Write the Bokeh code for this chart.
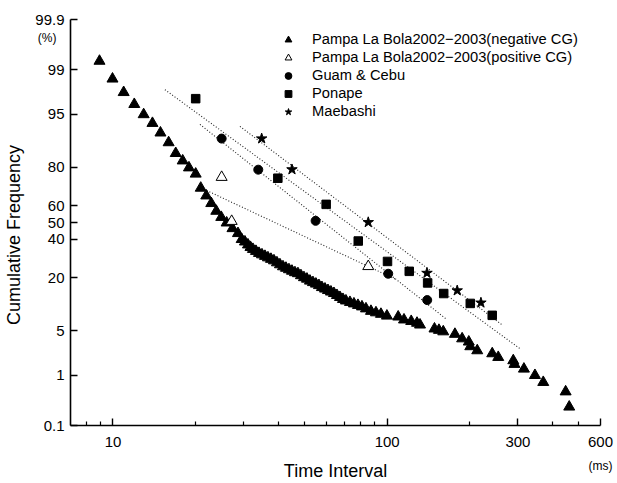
from statistics import NormalDist
from bokeh.plotting import figure
from bokeh.models import (FixedTicker, Legend, LegendItem, Range1d, LogAxis,
                          LinearAxis, NumeralTickFormatter)
from bokeh.embed import file_html
from bokeh.resources import INLINE

# ---------------- data (time interval in ms, cumulative frequency in %) -------------
neg_t = [8.93, 9.96, 10.94, 11.96, 12.94, 13.93, 14.90, 15.96, 16.94, 17.96, 18.93, 20.03,
         20.90, 21.89, 22.83, 23.81, 24.83, 25.98, 27.28, 28.57, 29.47,
         30.29, 31.07, 31.73, 32.40, 33.23, 34.08, 34.95, 35.84, 36.75, 37.69, 38.65, 39.63,
         40.64, 41.69, 42.75, 43.84, 44.96, 46.10, 47.28, 48.48, 49.72, 50.99, 52.29, 53.62,
         54.98, 56.39, 57.82, 59.33, 60.83, 62.37, 63.97, 65.60, 67.28, 69.00, 70.75, 73.17,
         75.67, 78.26, 80.93, 83.70, 87.29, 91.03, 94.93, 99.8,
         109.7, 115.2, 122.4, 128.5, 131.8, 148.8, 154.5, 160.2, 176.7, 187.7, 198.5, 201.0,
         213.1, 241.7, 254.2, 288.4, 291.3, 315.4, 346.0, 371.0, 447.7, 461.4]
neg_p = [99.30, 98.56, 97.62, 96.40, 94.99, 93.46, 91.39, 88.82, 85.38, 82.64, 79.79, 77.01,
         70.02, 65.80, 61.45, 56.89, 53.19, 49.82, 46.39, 43.41, 39.88,
         38.44, 36.73, 35.31, 34.20, 33.10, 32.00, 31.21, 30.40, 29.62, 28.84, 28.07, 27.06,
         26.08, 25.10, 24.39, 23.69, 23.00, 22.31, 21.87, 20.98, 20.13, 19.50, 18.68, 18.08,
         17.49, 16.91, 16.16, 15.61, 15.08, 14.55, 14.04, 13.38, 12.74, 12.12, 11.67, 11.23,
         10.81, 10.39, 9.99, 9.47, 8.85, 8.50, 8.15, 7.75,
         7.55, 6.93, 6.63, 6.29, 5.96, 5.28, 5.06, 4.83, 4.46, 3.85, 3.46, 2.95,
         2.56, 2.30, 2.01, 1.78, 1.55, 1.29, 1.00, 0.75, 0.50, 0.25]

pos_t = [24.91, 27.10, 85.33]
pos_p = [75.47, 50.78, 25.20]

guam_t = [24.91, 33.88, 54.84, 100.9, 140.0]
guam_p = [89.93, 78.93, 51.02, 21.77, 11.88]

ponape_t = [20.03, 39.93, 59.92, 78.46, 100.3, 120.4, 140.5, 160.8, 201.0, 241.7]
ponape_p = [97.03, 74.99, 60.87, 38.90, 27.67, 22.86, 17.88, 13.98, 10.90, 7.88]

maebashi_t = [34.86, 44.96, 85.33, 139.7, 180.1, 219.8]
maebashi_p = [89.93, 79.02, 50.12, 22.09, 15.01, 11.09]

# fitted (dotted) lines: end points
fit_ponape_t, fit_ponape_p = [15.47, 307.6], [97.84, 2.67]
fit_maebashi_t, fit_maebashi_p = [29.05, 264.5], [92.83, 5.84]
fit_guam_t, fit_guam_p = [20.76, 165.2], [93.23, 6.97]
fit_pos_t, fit_pos_p = [21.96, 106.8], [68.69, 19.49]

y_ticks_pct = [0.1, 1, 5, 20, 40, 50, 60, 80, 95, 99, 99.9]
y_tick_labels = ["0.1", "1", "5", "20", "40", "50", "60", "80", "95", "99", "99.9"]
y_unit_pos, y_unit_label = 99.75, "(%)"
x_major = [10, 100, 300, 600]
x_minor = [8, 9, 20, 30, 40, 50, 60, 70, 80, 90, 200, 400, 500]
x_unit_pos, x_unit_label = 600, "(ms)"

labels = ["Pampa La Bola2002\u22122003(negative CG)",
          "Pampa La Bola2002\u22122003(positive CG)",
          "Guam & Cebu", "Ponape", "Maebashi"]

# ---------------- probability-paper transform ----------------
_nd = NormalDist()


def zq(pcts):
    return [_nd.inv_cdf(v / 100.0) for v in pcts]


FONT = "Liberation Sans"

p = figure(width=617, height=483, x_axis_type="log",
           x_range=Range1d(7, 600),
           y_range=Range1d(zq([0.1])[0], zq([99.9])[0]),
           output_backend="svg", toolbar_location=None,
           min_border_left=70, min_border_right=17, min_border_top=19,
           min_border_bottom=53)
p.outline_line_color = None
p.xgrid.visible = False
p.ygrid.visible = False
p.background_fill_color = "white"
p.border_fill_color = "white"

# dotted fit lines
for t, pc in [(fit_ponape_t, fit_ponape_p), (fit_maebashi_t, fit_maebashi_p),
              (fit_guam_t, fit_guam_p), (fit_pos_t, fit_pos_p)]:
    p.line(t, zq(pc), line_color="#222222", line_width=1.1, line_dash="1 2")

r_neg = p.scatter(neg_t, zq(neg_p), marker="triangle", size=11,
                  fill_color="black", line_color="black")
r_pos = p.scatter(pos_t, zq(pos_p), marker="triangle", size=11,
                  fill_color="white", line_color="black", line_width=1)
r_guam = p.scatter(guam_t, zq(guam_p), marker="circle", size=9,
                   fill_color="black", line_color="black")
r_pon = p.scatter(ponape_t, zq(ponape_p), marker="square", size=8.5,
                  fill_color="black", line_color="black")
r_mae = p.scatter(maebashi_t, zq(maebashi_p), marker="star", size=11,
                  fill_color="black", line_color="black")

legend = Legend(items=[LegendItem(label=l, renderers=[r]) for l, r in
                       zip(labels, [r_neg, r_pos, r_guam, r_pon, r_mae])],
                location=(209, 305.5), padding=0, margin=0, spacing=1,
                glyph_width=18, glyph_height=17, label_height=17,
                label_standoff=15, border_line_color=None,
                background_fill_alpha=0,
                label_text_font=FONT, label_text_font_size="14.7px",
                label_text_color="black")
p.add_layout(legend)

# main x axis
xa = p.xaxis[0]
xa.ticker = FixedTicker(ticks=x_major, minor_ticks=x_minor)
xa.formatter = NumeralTickFormatter(format="0")
xa.major_tick_in = 7
xa.major_tick_out = 0
xa.minor_tick_in = 4
xa.minor_tick_out = 0
xa.axis_line_width = 1.6
xa.major_tick_line_width = 1.4
xa.minor_tick_line_width = 1.2
xa.major_label_text_font = FONT
xa.major_label_text_font_size = "15px"
xa.major_label_text_color = "black"
xa.major_label_standoff = 11

# second (label-only) x axis: unit and title on one row
xa2 = LogAxis(ticker=FixedTicker(ticks=[x_unit_pos], minor_ticks=[]),
              major_label_overrides={x_unit_pos: x_unit_label})
xa2.axis_line_color = None
xa2.major_tick_line_color = None
xa2.minor_tick_line_color = None
xa2.major_label_text_font = FONT
xa2.major_label_text_font_size = "12px"
xa2.major_label_text_color = "black"
xa2.major_label_standoff = 3
xa2.axis_label = "Time Interval"
xa2.axis_label_text_font = FONT
xa2.axis_label_text_font_size = "18px"
xa2.axis_label_text_font_style = "normal"
xa2.axis_label_text_color = "black"
xa2.axis_label_standoff = -15
p.add_layout(xa2, "below")

# main y axis (probability scale)
ya = p.yaxis[0]
yz = zq(y_ticks_pct)
ya.ticker = FixedTicker(ticks=yz, minor_ticks=[])
ya.major_label_overrides = {v: s for v, s in zip(yz, y_tick_labels)}
ya.major_tick_in = 7
ya.major_tick_out = 0
ya.minor_tick_in = 0
ya.minor_tick_out = 0
ya.major_tick_line_width = 1.4
ya.axis_line_width = 1.6
ya.major_label_text_font = FONT
ya.major_label_text_font_size = "15px"
ya.major_label_text_color = "black"
ya.major_label_standoff = 6

# second (label-only) y axis: unit under the top label, plus the axis title
yu = zq([y_unit_pos])[0]
ya2 = LinearAxis(ticker=FixedTicker(ticks=[yu], minor_ticks=[]),
                 major_label_overrides={yu: y_unit_label})
ya2.axis_line_color = None
ya2.major_tick_line_color = None
ya2.minor_tick_line_color = None
ya2.major_label_text_font = FONT
ya2.major_label_text_font_size = "12px"
ya2.major_label_text_color = "black"
ya2.major_label_standoff = -30
ya2.axis_label = "Cumulative Frequency" + "\u00a0" * 5
ya2.axis_label_text_font = FONT
ya2.axis_label_text_font_size = "18px"
ya2.axis_label_text_font_style = "normal"
ya2.axis_label_text_color = "black"
ya2.axis_label_standoff = 11
p.add_layout(ya2, "left")

open("out.html", "w").write(file_html(p, INLINE))
